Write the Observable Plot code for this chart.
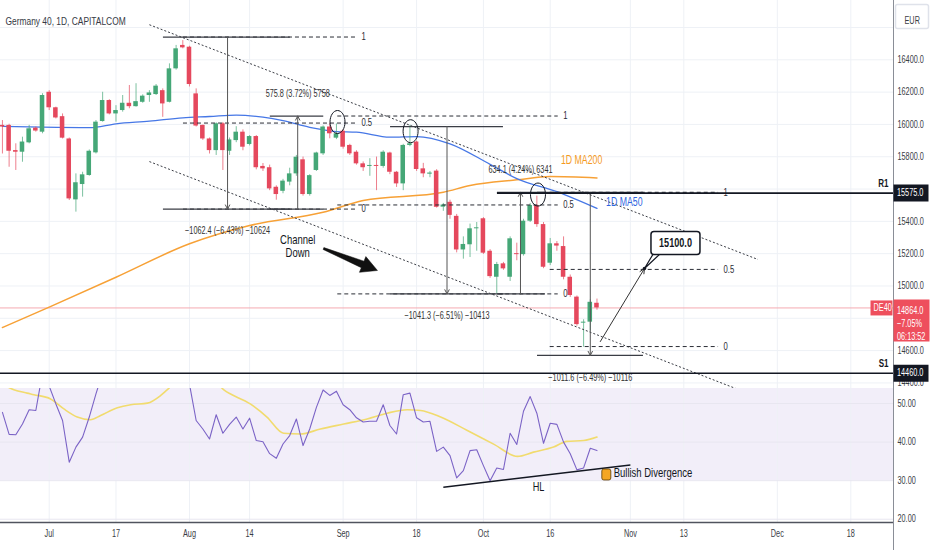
<!DOCTYPE html>
<html><head><meta charset="utf-8">
<script src="https://cdn.jsdelivr.net/npm/d3@7"></script>
<script src="https://cdn.jsdelivr.net/npm/@observablehq/plot@0.6"></script>
<style>
html,body{margin:0;padding:0;background:#fff;}
#chart{width:932px;height:550px;overflow:hidden;background:#fff;}
#chart svg{display:block;}
</style></head>
<body><div id="chart"></div>
<script>
// ---------------- data (bar index 0 = Jul 3) ----------------
const firstBar = -7;
const open  = [15994,15994,15838,15828,15886,15977,15952,16199,16103,16048,15910,15533,15628,15684,15824,16018,16148,16065,16086,16131,16110,16137,16179,16185,16209,16137,16344,16489,16478,16189,15994,15910,15838,16004,15834,15900,15952,15876,15925,15740,15732,15611,15586,15643,15694,15781,15566,15715,15818,15984,15915,15958,15870,15828,15756,15740,15746,15740,15823,15704,15632,15870,15891,15725,15692,15711,15488,15518,15431,15223,15255,15354,15416,15215,15054,15137,15054,15198,15194,15401,15498,15380,15141,15261,15244,15054,14931,14770,14776,14893];
const high  = [16024,16001,15880,15921,15994,15984,16190,16209,16107,16065,15916,15694,15704,15842,16024,16199,16153,16116,16179,16241,16252,16183,16209,16247,16220,16375,16489,16519,16484,16220,15996,15916,16010,16012,15916,15986,15966,15931,15931,15758,15748,15620,15660,15729,15808,15798,15689,15828,15991,16005,16003,15966,15877,15837,15768,15788,15798,15837,15828,15709,15877,15995,15897,15759,15709,15720,15511,15531,15443,15304,15383,15393,15423,15225,15146,15146,15304,15265,15413,15511,15556,15393,15294,15275,15304,15068,14938,14791,14914,14919];
const low   = [15817,15735,15715,15766,15880,15952,15942,16086,16034,15910,15529,15457,15550,15679,15817,16014,16059,16014,16076,16097,16107,16131,16137,16179,16044,16133,16336,16468,16232,15984,15901,15817,15808,15715,15808,15887,15837,15867,15719,15709,15590,15531,15571,15620,15679,15556,15556,15709,15808,15911,15906,15847,15808,15748,15709,15679,15590,15729,15689,15610,15590,15862,15709,15670,15670,15482,15462,15413,15205,15166,15176,15215,15195,15047,14952,15097,15028,15156,15185,15393,15363,15107,15126,15215,15038,14929,14751,14621,14721,14850];
const close = [15984,15834,15828,15891,15973,15959,16179,16103,16040,15915,15539,15639,15688,15834,16014,16148,16065,16086,16131,16110,16141,16175,16195,16237,16127,16344,16468,16474,16247,15990,15910,15838,16004,15838,15904,15952,15859,15925,15732,15725,15601,15566,15649,15694,15797,15566,15683,15823,15984,15942,15942,15859,15818,15756,15732,15744,15740,15828,15704,15632,15870,15880,15721,15694,15699,15487,15501,15437,15223,15257,15354,15360,15203,15058,15133,15106,15292,15194,15401,15498,15380,15116,15261,15247,15054,14941,14761,14776,14899,14864];
const rsi   = [47.7,42.0,41.9,44.7,48.4,48.2,58,54.5,49.9,45.6,34.8,38.7,41.3,46.5,52.5,58,55,56,58,57,59,61,62,64,60,66,70,68,55,45.6,43.4,40.8,47.1,42.3,44.6,46.5,43.4,46.2,40.4,40.1,37.0,35.8,39.5,41.7,46.0,39.1,43.4,49.0,53.5,52.1,53.2,49.7,48.4,46.3,45.2,45.4,45.4,49.7,44.3,42.1,52.3,52.7,46.3,45.2,45.4,37.6,38.7,36.5,30.7,32.6,37.8,38.0,33.9,30.0,33.3,32.9,42.3,39.4,48.0,51.8,47.5,39.7,44.9,44.6,40.0,37.0,32.8,33.3,38.4,37.8];
const rsiMaIdx = [-7,-5.3,-3.3,-2.3,0.2,2.2,4.2,6.2,7.7,10.2,12.2,14.7,16.7,17.7,20,24,26.1,30.1,32.6,35.1,37.6,40.6,44.1,47.6,50.6,53.6,55.6,58.6,62.6,66.6,70.1,72.5,75.5,77.5,80,82];
const rsiMaVal = [55,53.6,52.7,52.3,51.2,48.6,46.5,45.8,46.9,48.9,49.7,50.1,52.1,53.6,57,57,53.6,49.9,46.5,42.3,42.1,43.4,44.7,46.0,47.5,48.4,48.2,46.5,43.0,39.4,36.3,37.4,38.7,40.2,40.4,41.3];
const ma50Idx = [-7,-1,6,10,15,20,24,28,32,35,39,43,46,51,55,60,66,70,76,82];
const ma50Val = [15988,15983,15980,16004,16020,16041,16049,16058,16045,16024,15982,15956,15952,15921,15925,15880,15753,15665,15584,15480];
const ma200Idx = [-7,0,10,21,30,41,47,59,63,70,75,82];
const ma200Val = [14743,14869,15054,15261,15374,15456,15529,15580,15622,15657,15677,15668];
const tickIdx = [0,10,21,30,44,55,65,75,87,95,109,120];
const tickLabels = ["Jul","17","Aug","14","Sep","18","Oct","16","Nov","13","Dec","18"];
const priceGrid = [14400,14600,14800,15000,15200,15400,15600,15800,16000,16200,16400,16600];
// axis labels that are not hidden behind the price tags
const priceLabels = [14400,14600,15000,15200,15400,15800,16000,16200,16400];
const rsiTicks = [20,30,40,50];
const levelNames = ["R1","S1"];
const levelPrices = [15575,14460];
const r1StartBar = 67.1;
// channel down (start bar, start price, end bar, end price)
const chanX1 = [15.0,15.0], chanY1 = [16617,15770], chanX2 = [106.1,103.3], chanY2 = [15164,14357];
// fib retracements
const fibStart = [20.1,43.2,75.0], fibEnd = [46.0,76.2,100.2];
const fibTop = [16541,16052,15580], fibBottom = [15476,14951,14625];
const fibLevels = [1,0.5,0];
// price range measurements
const measIdx = [26.7,37.2,59.55,70.55,81.0];
const measFrom = [16541,15476,15987,14951,15580];
const measTo   = [15476,16052,14951,15580,14570];
const measX1 = [17.1,33.1,51.1,67.1,73.1], measX2 = [36.1,41.1,68.0,74.3,88.96];
const measLabel = ["\u22121062.4 (\u22126.43%) \u221210624","575.8 (3.72%) 5758","\u22121041.3 (\u22126.51%) \u221210413","634.1 (4.24%) 6341","\u22121011.6 (\u22126.49%) \u221210116"];
const circleIdx = [43.16,54.1,73.17], circlePrice = [16015,15958,15566];
const lastChange = "\u22127.05%", countdown = "06:13:52", symbolName = "DE40", currency = "EUR";
const title = "Germany 40, 1D, CAPITALCOM";

// ---------------- chart ----------------
const FONT = "'Liberation Sans', Arial, Helvetica, sans-serif";
const SQUEEZE = 0.73;
const GRID = "#eef1f6";
const UP = "#45a777", DOWN = "#e5485d", TAGRED = "#ee4f5d", INK = "#131722";
const xDomain = [-7.29, 126.39];
const priceDomain = [14365.4, 16767.1];
const rsiDomain = [19.15, 53.9];
const MAIN_W = 893, MAIN_H = 388;
const pxPerBar = MAIN_W / (xDomain[1] - xDomain[0]);
const pxPerPoint = MAIN_H / (priceDomain[1] - priceDomain[0]);

function rectSym(w, h, rad = 0) {
  return {draw(ctx) {
    const x = -w / 2, y = -h / 2;
    if (!rad) { ctx.rect(x, y, w, h); return; }
    ctx.moveTo(x + rad, y);
    ctx.arcTo(x + w, y, x + w, y + h, rad);
    ctx.arcTo(x + w, y + h, x, y + h, rad);
    ctx.arcTo(x, y + h, x, y, rad);
    ctx.arcTo(x, y, x + w, y, rad);
    ctx.closePath();
  }};
}
function ellipseSym(rx, ry) {
  const k = 0.5523;
  return {draw(ctx) {
    ctx.moveTo(rx, 0);
    ctx.bezierCurveTo(rx, k * ry, k * rx, ry, 0, ry);
    ctx.bezierCurveTo(-k * rx, ry, -rx, k * ry, -rx, 0);
    ctx.bezierCurveTo(-rx, -k * ry, -k * rx, -ry, 0, -ry);
    ctx.bezierCurveTo(k * rx, -ry, rx, -k * ry, rx, 0);
    ctx.closePath();
  }};
}
// tapered, filled arrow drawn around its midpoint, pointing along (dxPx, dyPx)
function fatArrowSym(dxPx, dyPx) {
  const len = Math.hypot(dxPx, dyPx), c = dxPx / len, s = dyPx / len, h = len / 2;
  const pts = [[-h, -1], [h - 16, -3.5], [h - 16, -8.5], [h, 0], [h - 16, 8.5], [h - 16, 3.5], [-h, 1]];
  return {draw(ctx) {
    pts.forEach(([x, y], k) => { const X = x * c - y * s, Y = x * s + y * c; if (k) ctx.lineTo(X, Y); else ctx.moveTo(X, Y); });
    ctx.closePath();
  }};
}
const wedgeSym = {draw(ctx) { ctx.moveTo(0, 0); ctx.lineTo(9, -15); ctx.lineTo(16, -15); ctx.closePath(); }};

const candles = open.map((o, k) => ({i: firstBar + k, o, h: high[k], l: low[k], c: close[k]}));
const last = candles[candles.length - 1];
const colorOf = d => (d.c >= d.o ? UP : DOWN);
const ma50 = ma50Idx.map((i, k) => ({i, v: ma50Val[k]}));
const ma200 = ma200Idx.map((i, k) => ({i, v: ma200Val[k]}));
const channels = chanX1.map((x1, k) => ({x1, y1: chanY1[k], x2: chanX2[k], y2: chanY2[k]}));
const fibRows = fibStart.flatMap((s, k) => fibLevels.map(l => ({from: s, to: fibEnd[k], price: fibBottom[k] + l * (fibTop[k] - fibBottom[k]), label: String(l)})));
const meas = measIdx.map((idx, k) => ({idx, from: measFrom[k], to: measTo[k], x1: measX1[k], x2: measX2[k], label: measLabel[k]}));
const measEdges = meas.flatMap(m => [{y: m.from, x1: m.x1, x2: m.x2}, {y: m.to, x1: m.x1, x2: m.x2}]);
const levels = levelNames.map((name, k) => ({name, price: levelPrices[k]}));
const circles = circleIdx.map((i, k) => ({i, p: circlePrice[k]}));
const maLabels = [{i: 79.7, p: 15777, t: "1D MA200", c: "#f59a23"}, {i: 86.1, p: 15517, t: "1D MA50", c: "#2f64e0"}];
const channelNote = {i: 37.2, p: 15244, t: "Channel\nDown"};
const trendArrow = {x1: 41.06, y1: 15232, x2: 49.14, y2: 15096};
const trendMid = {i: (trendArrow.x1 + trendArrow.x2) / 2, p: (trendArrow.y1 + trendArrow.y2) / 2};
const trendSym = fatArrowSym((trendArrow.x2 - trendArrow.x1) * pxPerBar, (trendArrow.y1 - trendArrow.y2) * pxPerPoint);
const projection = {x1: 82.5, y1: 14656, x2: 89.11, y2: 15108};
const target = {i: 89.11, p: 15108, t: "15100.0"};

const main = Plot.plot({
  width: 932, height: MAIN_H, marginTop: 0, marginRight: 932 - MAIN_W, marginBottom: 0, marginLeft: 0,
  x: {domain: xDomain, axis: null},
  y: {domain: priceDomain, axis: null},
  color: {type: "identity"},
  style: {fontFamily: FONT, fontSize: "10px", background: "#fff", color: INK},
  marks: [
    Plot.ruleX(tickIdx, {stroke: GRID}),
    Plot.ruleY(priceGrid, {stroke: GRID}),
    Plot.ruleY([last.c], {stroke: "#f5aab1", strokeWidth: 1}),
    Plot.line(ma200, {x: "i", y: "v", stroke: "#f7a136", strokeWidth: 1.5, curve: "monotone-x"}),
    Plot.line(ma50, {x: "i", y: "v", stroke: "#4677e6", strokeWidth: 1.3, curve: "monotone-x"}),
    Plot.ruleX(candles, {x: "i", y1: "l", y2: "h", stroke: colorOf, strokeOpacity: 0.7}),
    Plot.rect(candles, {x1: d => d.i - 0.34, x2: d => d.i + 0.34, y1: d => Math.min(d.o, d.c), y2: d => Math.max(d.o, d.c, Math.min(d.o, d.c) + 6), fill: colorOf}),
    Plot.link(channels, {x1: "x1", y1: "y1", x2: "x2", y2: "y2", stroke: "#3a3d45", strokeDasharray: "2,2", strokeWidth: 1}),
    Plot.ruleY(fibRows, {y: "price", x1: "from", x2: "to", stroke: "#2a2d35", strokeDasharray: "4,3", strokeWidth: 1}),
    Plot.text(fibRows, {x: "to", y: "price", text: "label", textAnchor: "start", dx: 5, fontSize: 10.5, fill: "#2a2d35"}),
    Plot.ruleY(measEdges, {y: "y", x1: "x1", x2: "x2", stroke: "#3a3d45", strokeWidth: 1.2}),
    Plot.arrow(meas, {x1: "idx", x2: "idx", y1: "from", y2: "to", stroke: "#555", strokeWidth: 1, headLength: 7, headAngle: 55}),
    Plot.text(meas.filter(m => m.to < m.from), {x: "idx", y: "to", text: "label", textAnchor: "middle", dy: 22, fontSize: 10, fill: "#333"}),
    Plot.text(meas.filter(m => m.to > m.from), {x: "idx", y: "to", text: "label", textAnchor: "middle", dy: -22, fontSize: 10, fill: "#333"}),
    Plot.ruleY(levels.filter(d => d.name === "R1"), {y: "price", x1: r1StartBar, x2: xDomain[1], stroke: INK, strokeWidth: 1.6}),
    Plot.ruleY(levels.filter(d => d.name === "S1"), {y: "price", stroke: INK, strokeWidth: 1.6}),
    Plot.dot(circles, {x: "i", y: "p", symbol: ellipseSym(7.5, 11.5), fill: "none", stroke: INK, strokeWidth: 1}),
    Plot.text(maLabels, {x: "i", y: "p", text: "t", fill: "c", textAnchor: "middle", fontSize: 12}),
    Plot.text([channelNote], {x: "i", y: "p", text: "t", textAnchor: "middle", fontSize: 13, lineHeight: 0.95, fill: INK}),
    Plot.dot([trendMid], {x: "i", y: "p", symbol: trendSym, fill: "#111", stroke: "#111", strokeWidth: 0.5}),
    Plot.arrow([projection], {x1: "x1", y1: "y1", x2: "x2", y2: "y2", stroke: "#333", strokeWidth: 1, headLength: 8, headAngle: 50}),
    Plot.dot([target], {x: "i", y: "p", symbol: wedgeSym, fill: "#fff", stroke: INK, strokeWidth: 1.2}),
    Plot.dot([target], {x: "i", y: "p", dx: 31, dy: -25.5, symbol: rectSym(49, 23, 3), fill: "#fff", stroke: INK, strokeWidth: 1.5}),
    Plot.text([target], {x: "i", y: "p", dx: 31, dy: -25.5, text: "t", textAnchor: "middle", fontSize: 12.5, fontWeight: "bold", fill: INK}),
    Plot.dot([target], {x: "i", y: "p", r: 1.8, fill: INK, stroke: "none"}),
    Plot.text([title], {frameAnchor: "top-left", dx: 5, dy: 16, text: d => d, textAnchor: "start", fontSize: 11.5, fill: "#363a45"}),
    Plot.ruleX([xDomain[1]], {stroke: "#8a8e97"}),
    Plot.text(priceLabels, {y: d => d, text: d => d.toFixed(1), frameAnchor: "right", dx: 4, textAnchor: "start", fontSize: 10, fill: "#3a3d45"}),
    Plot.dot(levels, {y: "price", frameAnchor: "right", dx: 17.5, symbol: rectSym(35, 17), fill: INK, stroke: "none"}),
    Plot.text(levels, {y: "price", text: d => d.price.toFixed(1), frameAnchor: "right", dx: 3.5, textAnchor: "start", fontSize: 10, fill: "#fff"}),
    Plot.text(levels, {y: "price", text: "name", frameAnchor: "right", dx: -5, dy: -10, textAnchor: "end", fontSize: 11, fontWeight: "bold", fill: INK}),
    Plot.dot([last], {y: "c", frameAnchor: "right", dx: 18, dy: 12.5, symbol: rectSym(36, 42), fill: TAGRED, stroke: "none"}),
    Plot.text([last], {y: "c", text: d => `${d.c.toFixed(1)}\n${lastChange}\n${countdown}`, frameAnchor: "right", dx: 3.5, dy: -3, lineAnchor: "top", lineHeight: 1.3, textAnchor: "start", fontSize: 10, fill: "#fff"}),
    Plot.dot([last], {y: "c", frameAnchor: "right", dx: -12, symbol: rectSym(22, 15), fill: TAGRED, stroke: "none"}),
    Plot.text([last], {y: "c", text: () => symbolName, frameAnchor: "right", dx: -20, textAnchor: "start", fontSize: 10, fill: "#fff"}),
    Plot.dot([currency], {frameAnchor: "top-right", dx: 18.5, dy: 16, symbol: rectSym(33, 24, 2), fill: "#fff", stroke: "#dfe2ea"}),
    Plot.text([currency], {frameAnchor: "top-right", dx: 11, dy: 16, text: d => d, textAnchor: "start", fontSize: 10, fill: "#3a3d45"})
  ]
});

const rsiRows = rsi.map((v, k) => ({i: firstBar + k, v}));
const rsiMa = rsiMaIdx.map((i, k) => ({i, v: rsiMaVal[k]}));
const hl = {x1: 59.0, y1: 28.3, x2: 87.0, y2: 34.05};
const hlNote = {i: 73.25, v: 28.3, t: "HL"};
const divNote = {i: 84.5, v: 32.1, t: "Bullish Divergence"};
const iconAt = {i: 83.4, v: 31.6};

const rsiChart = Plot.plot({
  width: 932, height: 162, marginTop: 0, marginRight: 932 - MAIN_W, marginBottom: 28, marginLeft: 0,
  x: {domain: xDomain, axis: null},
  y: {domain: rsiDomain, axis: null},
  style: {fontFamily: FONT, fontSize: "10px", background: "#fff", color: INK},
  marks: [
    Plot.rect([0], {x1: () => xDomain[0], x2: () => xDomain[1], y1: () => 30, y2: () => rsiDomain[1], fill: "#7e57c2", fillOpacity: 0.1}),
    Plot.ruleX(tickIdx, {stroke: GRID}),
    Plot.ruleY(rsiTicks, {stroke: "#e8e6f0"}),
    Plot.line(rsiMa, {x: "i", y: "v", stroke: "#f1db6e", strokeWidth: 1.6, curve: "monotone-x"}),
    Plot.line(rsiRows, {x: "i", y: "v", stroke: "#7b63c6", strokeWidth: 1.1}),
    Plot.link([hl], {x1: "x1", y1: "y1", x2: "x2", y2: "y2", stroke: INK, strokeWidth: 1.5}),
    Plot.text([hlNote], {x: "i", y: "v", text: "t", textAnchor: "middle", fontSize: 12.5, fill: INK}),
    Plot.dot([iconAt], {x: "i", y: "v", symbol: rectSym(9, 11, 2), fill: "#f5a623", stroke: "#5a3b00", strokeWidth: 0.8}),
    Plot.text([divNote], {x: "i", y: "v", text: "t", textAnchor: "start", fontSize: 13, fill: INK}),
    Plot.ruleY([rsiDomain[0]], {stroke: "#50535e", strokeWidth: 1.6}),
    Plot.ruleX([xDomain[1]], {stroke: "#8a8e97", insetBottom: -28}),
    Plot.text(rsiTicks, {y: d => d, text: d => d.toFixed(2), frameAnchor: "right", dx: 4, textAnchor: "start", fontSize: 10, fill: "#3a3d45"}),
    Plot.text(tickIdx, {x: d => d, text: (d, k) => tickLabels[k], frameAnchor: "bottom", dy: 14, textAnchor: "middle", fontSize: 10, fill: "#3a3d45"})
  ]
});

const host = document.getElementById("chart");
host.appendChild(main);
host.appendChild(rsiChart);
// horizontally condense all labels (the reference uses a narrow UI font)
for (const svg of [main, rsiChart]) {
  svg.querySelectorAll("text").forEach(t => {
    const spans = t.querySelectorAll("tspan");
    const targets = spans.length ? Array.from(spans) : [t];
    targets.forEach(el => {
      const len = el.getComputedTextLength();
      if (len > 0) {
        el.setAttribute("textLength", (len * SQUEEZE).toFixed(2));
        el.setAttribute("lengthAdjust", "spacingAndGlyphs");
      }
    });
  });
}
</script>
</body></html>
